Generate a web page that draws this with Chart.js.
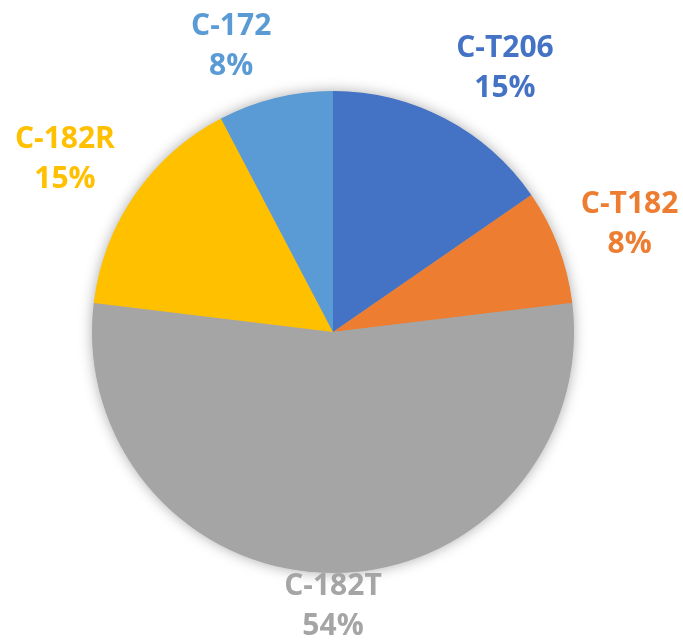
<!DOCTYPE html>
<html>
<head>
<meta charset="utf-8">
<script src="https://cdn.jsdelivr.net/npm/chart.js@4"></script>
<style>
  html, body { margin: 0; padding: 0; background: #fff; }
  #wrap { width: 683px; height: 641px; }
</style>
</head>
<body>
<div id="wrap"><canvas id="pie" width="683" height="641"></canvas></div>
<script>
// === Data ===
const models = ['C-T206', 'C-T182', 'C-182T', 'C-182R', 'C-172'];
const counts = [2, 1, 7, 2, 1];
const sliceColors = ['#4472C4', '#ED7D31', '#A5A5A5', '#FFC000', '#5B9BD5'];

const FONT = 'bold 30px "Open Sans", "DejaVu Sans", sans-serif';
const LINE_GAP = 40;

// soft drop shadow under the whole pie
const pieShadow = {
    id: 'pieShadow',
    beforeDatasetsDraw(chart) {
        const arc = chart.getDatasetMeta(0).data[0];
        if (!arc) return;
        const ctx = chart.ctx;
        ctx.save();
        ctx.shadowColor = 'rgba(0,0,0,0.35)';
        ctx.shadowBlur = 14;
        ctx.shadowOffsetX = 0;
        ctx.shadowOffsetY = 0;
        ctx.fillStyle = '#A5A5A5';
        ctx.beginPath();
        ctx.arc(arc.x, arc.y, arc.outerRadius - 0.5, 0, Math.PI * 2);
        ctx.fill();
        ctx.restore();
    }
};

// outside-end labels: name + percentage, coloured like the slice
const outsideLabels = {
    id: 'outsideLabels',
    afterDatasetsDraw(chart) {
        const ctx = chart.ctx;
        const meta = chart.getDatasetMeta(0);
        const total = counts.reduce((a, b) => a + b, 0);
        ctx.save();
        ctx.font = FONT;
        ctx.textAlign = 'center';
        ctx.textBaseline = 'alphabetic';
        meta.data.forEach((arc, i) => {
            const mid = (arc.startAngle + arc.endAngle) / 2;
            const sin = Math.cos(mid);   // x component
            const cos = -Math.sin(mid);  // "up" component
            const lines = [models[i], Math.round(counts[i] / total * 100) + '%'];
            const w = Math.max(...lines.map(t => ctx.measureText(t).width));
            const capH = 21;
            const h = capH + LINE_GAP;
            const d = arc.outerRadius + 24;
            const ax = arc.x + d * sin;
            const ay = arc.y - d * cos;
            const fx = Math.max(-1, Math.min(1, sin * 4));
            const fy = Math.max(-1, Math.min(1, cos * 1.4));
            let cx = ax + fx * w / 2;
            let cy = ay - fy * h / 2;
            cy = Math.min(cy, chart.height - 6 - h / 2);
            cy = Math.max(cy, 6 + h / 2);
            ctx.fillStyle = sliceColors[i];
            const top = cy - h / 2;
            ctx.fillText(lines[0], cx, top + capH);
            ctx.fillText(lines[1], cx, top + capH + LINE_GAP);
        });
        ctx.restore();
    }
};

new Chart(document.getElementById('pie'), {
    type: 'pie',
    data: {
        labels: models,
        datasets: [{
            data: counts,
            backgroundColor: sliceColors,
            borderWidth: 0
        }]
    },
    options: {
        responsive: false,
        animation: false,
        layout: { padding: { top: 91, bottom: 68, left: 92, right: 109 } },
        plugins: {
            legend: { display: false },
            tooltip: { enabled: false },
            title: { display: false }
        }
    },
    plugins: [pieShadow, outsideLabels]
});
</script>
</body>
</html>
